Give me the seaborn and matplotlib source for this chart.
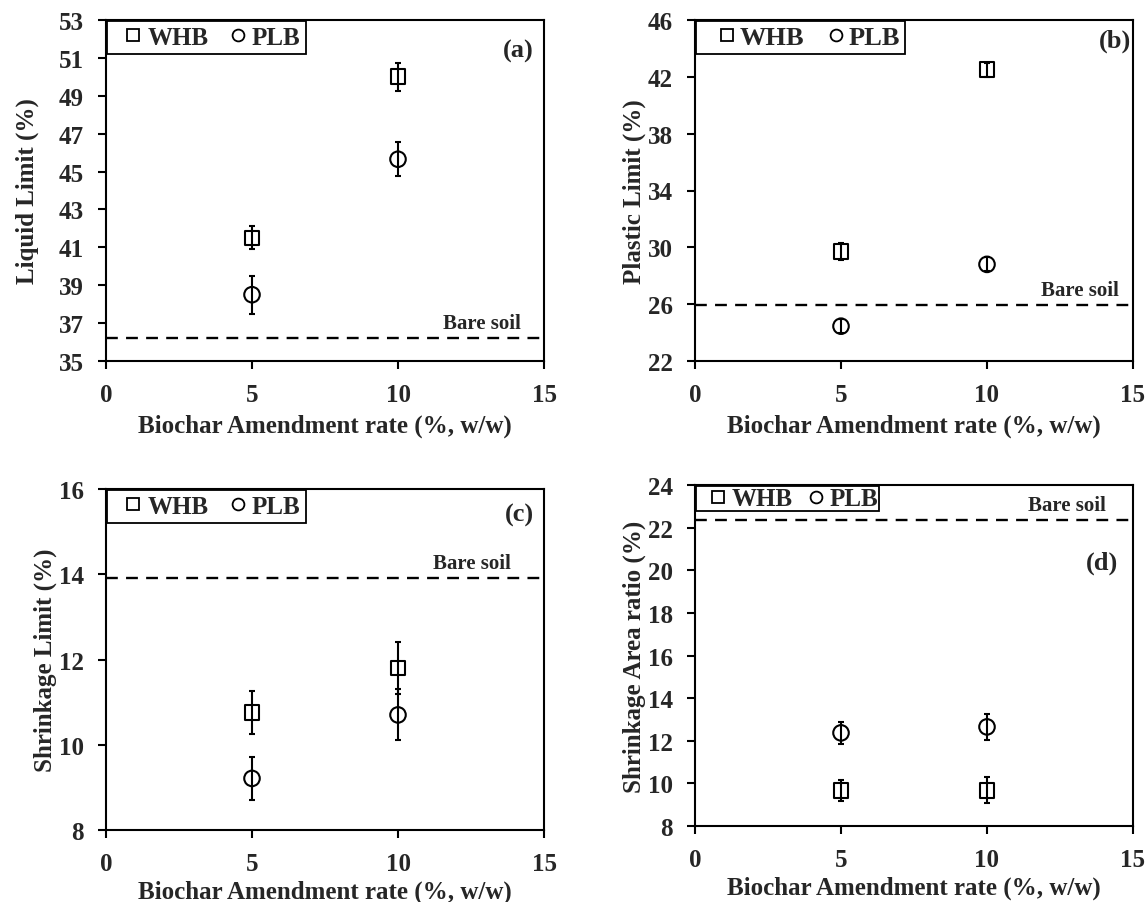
import matplotlib
matplotlib.use("Agg")
import matplotlib.pyplot as plt
from matplotlib.lines import Line2D
import seaborn as sns
import numpy as np

sns.set_style("ticks")
plt.rcParams['font.family'] = ['Liberation Serif', 'DejaVu Serif']
plt.rcParams['font.weight'] = 'bold'

rates = [5, 10]

# (a) Liquid limit
ll_whb = [41.5, 50.0]; ll_whb_err = [0.6, 0.75]
ll_plb = [38.5, 45.65]; ll_plb_err = [1.0, 0.9]
ll_bare = 36.2
# (b) Plastic limit
pl_whb = [29.7, 42.5]; pl_whb_err = [0.6, 0.5]
pl_plb = [24.45, 28.8]; pl_plb_err = [0.5, 0.5]
pl_bare = 25.95
# (c) Shrinkage limit
sl_whb = [10.76, 11.8]; sl_whb_err = [0.5, 0.6]
sl_plb = [9.21, 10.7]; sl_plb_err = [0.5, 0.6]
sl_bare = 13.91
# (d) Shrinkage area ratio
sa_whb = [9.65, 9.68]; sa_whb_err = [0.5, 0.6]
sa_plb = [12.37, 12.65]; sa_plb_err = [0.5, 0.6]
sa_bare = 22.35

x_ticks = [0, 5, 10, 15]
panels = [
    dict(tag="(a)", ylabel="Liquid Limit (%)", yt=[35, 37, 39, 41, 43, 45, 47, 49, 51, 53],
         whb=ll_whb, whbe=ll_whb_err, plb=ll_plb, plbe=ll_plb_err, bare=ll_bare,
         rect=[106, 21, 544, 362], tagx=0.977, tagy=0.912, barex=0.948, ylpad=14, xlpad=5,
         leg=dict(size=18, hl=1.72, htp=-0.28, cs=0.28, bp=0.2)),
    dict(tag="(b)", ylabel="Plastic Limit (%)", yt=[22, 26, 30, 34, 38, 42, 46],
         whb=pl_whb, whbe=pl_whb_err, plb=pl_plb, plbe=pl_plb_err, bare=pl_bare,
         rect=[695, 21, 1133, 362], tagx=0.995, tagy=0.94, barex=0.968, ylpad=1, xlpad=5,
         leg=dict(size=19, hl=1.98, htp=-0.52, cs=0.22, bp=0.2)),
    dict(tag="(c)", ylabel="Shrinkage Limit (%)", yt=[8, 10, 12, 14, 16],
         whb=sl_whb, whbe=sl_whb_err, plb=sl_plb, plbe=sl_plb_err, bare=sl_bare,
         rect=[106, 490, 544, 831], tagx=0.977, tagy=0.924, barex=0.925, ylpad=1, xlpad=3,
         leg=dict(size=18, hl=1.72, htp=-0.28, cs=0.28, bp=0.2)),
    dict(tag="(d)", ylabel="Shrinkage Area ratio (%)", yt=[8, 10, 12, 14, 16, 18, 20, 22, 24],
         whb=sa_whb, whbe=sa_whb_err, plb=sa_plb, plbe=sa_plb_err, bare=sa_bare,
         rect=[695, 486, 1133, 827], tagx=0.966, tagy=0.774, barex=0.938, ylpad=1, xlpad=3,
         leg=dict(size=18, hl=1.64, htp=-0.28, cs=0.12, bp=0.05)),
]

W, H = 1148, 903
fig = plt.figure(figsize=(W / 100, H / 100), dpi=100)

for p in panels:
    l, t, r, b = p["rect"]
    ax = fig.add_axes([l / W, 1 - b / H, (r - l) / W, (b - t) / H])
    ax.set_xlim(0, 15)
    ax.set_ylim(p["yt"][0], p["yt"][-1])
    ax.set_xticks(x_ticks)
    ax.set_yticks(p["yt"])
    ax.errorbar(rates, p["whb"], yerr=p["whbe"], fmt="none", ecolor="black",
                elinewidth=1.5, capsize=2, capthick=1.5, zorder=3)
    ax.errorbar(rates, p["plb"], yerr=p["plbe"], fmt="none", ecolor="black",
                elinewidth=1.5, capsize=2, capthick=1.5, zorder=3)
    sns.scatterplot(x=rates, y=p["whb"], marker="s", s=112, facecolors="none",
                    edgecolors="black", linewidths=1.5, ax=ax, zorder=4)
    sns.scatterplot(x=rates, y=p["plb"], marker="o", s=125, facecolors="none",
                    edgecolors="black", linewidths=1.5, ax=ax, zorder=4)
    ax.axhline(p["bare"], color="black", lw=1.7, ls=(0, (5, 3.5)), zorder=2)
    ax.annotate("Bare soil", xy=(p["barex"], p["bare"]), xycoords=ax.get_yaxis_transform(),
                xytext=(0, 3.5), textcoords="offset points", ha="right", va="bottom",
                fontsize=15, fontweight="bold")
    ax.text(p["tagx"], p["tagy"], p["tag"], transform=ax.transAxes, ha="right",
            va="center", fontsize=19, fontweight="bold")
    ax.set_xlabel("Biochar Amendment rate (%, w/w)", fontsize=18, fontweight="bold",
                  labelpad=p["xlpad"])
    ax.set_ylabel(p["ylabel"], fontsize=18, fontweight="bold", labelpad=p["ylpad"])
    for s in ax.spines.values():
        s.set_linewidth(1.5)
        s.set_color("black")
    ax.tick_params(axis="both", direction="out", length=6, width=1.5, pad=10,
                   labelsize=18, top=False, right=False, color="black")
    for lab in ax.get_xticklabels() + ax.get_yticklabels():
        lab.set_fontweight("bold")
    lg = p["leg"]
    handles = [Line2D([], [], ls="none", marker="s", ms=8.5, mfc="none", mec="black", mew=1.3),
               Line2D([], [], ls="none", marker="o", ms=8.5, mfc="none", mec="black", mew=1.3)]
    leg = ax.legend(handles, ["WHB", "PLB"], loc="upper left", ncol=2,
                    bbox_to_anchor=(0.002, 0.998), borderaxespad=0, frameon=True,
                    fancybox=False, edgecolor="black", framealpha=1,
                    handlelength=lg["hl"], handletextpad=lg["htp"], columnspacing=lg["cs"],
                    handleheight=0.55,
                    prop=dict(size=lg["size"], weight="bold"), borderpad=lg["bp"])
    leg.get_frame().set_linewidth(1.3)

fig.savefig("out.png", dpi=100)
